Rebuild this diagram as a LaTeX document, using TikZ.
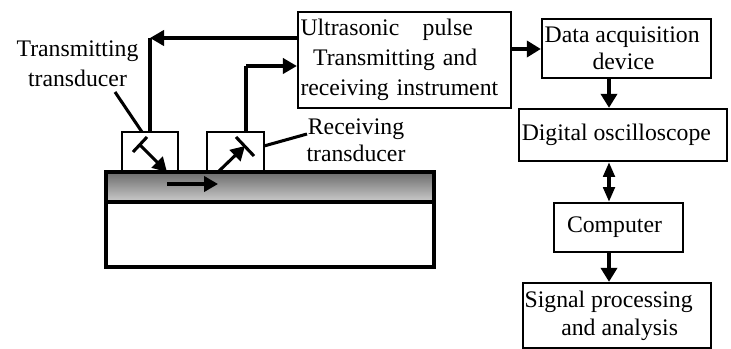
\documentclass[tikz,border=0pt]{standalone}
\usepackage{fontspec}
\setmainfont{Liberation Serif}
\usetikzlibrary{arrows.meta}
\definecolor{layerdark}{gray}{0.42}
\definecolor{layerlight}{gray}{0.80}
\tikzset{
  box/.style={draw,line width=1.7pt,inner sep=0pt,align=center,font=\fontsize{17.8}{20}\selectfont},
  lbl/.style={inner sep=0pt,align=center,font=\fontsize{17.8}{22.5}\selectfont},
  wire/.style={line width=2.3pt},
  arrow/.style={wire,-{Triangle[length=10.5pt,width=11.5pt]}},
  thickarrow/.style={line width=3pt,-{Triangle[length=10.5pt,width=12pt]}},
  thinarrow/.style={line width=2.6pt,{Triangle[length=11pt,width=8.5pt]}-{Triangle[length=11pt,width=8.5pt]}},
}
\begin{document}
\begin{tikzpicture}[x=0.75pt,y=-0.75pt]
  \useasboundingbox (0,0) rectangle (731,349);
  % specimen
  \node[draw,line width=2.3pt,minimum width=246pt,minimum height=48.75pt] (base) at (270,234.5) {};
  \node[draw,line width=2.3pt,minimum width=246pt,minimum height=22.5pt,top color=layerdark,bottom color=layerlight] (layer) at (270,187) {};
  % transducers
  \node[box,minimum width=42pt,minimum height=30pt] (tleft) at (150,152) {};
  \node[box,minimum width=42.75pt,minimum height=30pt] (tright) at (235.5,152) {};
  \coordinate (lbarA) at (133,152);
  \coordinate (lbarB) at (147,137);
  \coordinate (lfrom) at (140,145);
  \coordinate (lto) at (167,172);
  \coordinate (rbarA) at (236,137);
  \coordinate (rbarB) at (254,156);
  \coordinate (rfrom) at (218,172);
  \coordinate (rto) at (245,146);
  \coordinate (wavefrom) at (167,184);
  \coordinate (waveto) at (218,184);
  \draw[wire] (lbarA) -- (lbarB);
  \draw[wire] (rbarA) -- (rbarB);
  \draw[arrow] (lfrom) -- (lto);
  \draw[arrow] (rfrom) -- (rto);
  \draw[arrow] (wavefrom) -- (waveto);
  % instruments
  \node[box,minimum width=159.75pt,minimum height=72pt,text width=156pt,align=left,font=\fontsize{17.8}{22.5}\selectfont] (inst) at (404.5,60)
    {Ultrasonic\hspace{17.5pt}pulse\\\hspace{9.5pt}Transmitting and\\receiving instrument};
  \node[box,minimum width=126.75pt,minimum height=44.25pt] (daq) at (626.5,48.5) {\hspace{-6.5pt}Data acquisition\\\hspace{-4.5pt}device};
  \node[box,minimum width=156pt,minimum height=39pt] (scope) at (623,135) {\hspace{-10pt}Digital oscilloscope};
  \node[box,minimum width=96.75pt,minimum height=36.75pt] (comp) at (618.5,227.5) {\hspace{-6pt}Computer};
  \node[box,minimum width=141pt,minimum height=48.75pt,font=\fontsize{17.8}{21}\selectfont] (sig) at (617,315.5) {\hspace{-12.5pt}Signal processing\\\hspace{4pt}and analysis};
  % labels
  \node[lbl] (ltrans) at (77.5,64) {Transmitting\\transducer};
  \node[lbl,font=\fontsize{17.8}{20.25}\selectfont] (lrecv) at (356,140) {Receiving\\transducer};
  \coordinate (ltransend) at (115,92);
  \coordinate (lrecvend) at (307,134);
  \coordinate (ltransfoot) at (142,132);
  \coordinate (lrecvfoot) at (264,146);
  \draw[wire] (ltransend) -- (ltransfoot);
  \draw[wire] (lrecvend) -- (lrecvfoot);
  % connections
  \coordinate (corner) at (150,38);
  \coordinate (rise) at (246,66);
  \coordinate (spine) at (609,49);
  \draw[wire] (tleft.north) -- (corner);
  \draw[arrow] (inst.west |- corner) -- (corner);
  \draw[wire] (rise |- tright.north) -- (rise);
  \draw[arrow] (rise) -- (inst.west |- rise);
  \draw[thickarrow] (inst.east |- spine) -- (daq.west |- spine);
  \draw[thickarrow] (daq.south -| spine) -- (scope.north -| spine);
  \draw[thinarrow] (scope.south -| spine) -- (comp.north -| spine);
  \draw[thickarrow] (comp.south -| spine) -- (sig.north -| spine);
\end{tikzpicture}
\end{document}
